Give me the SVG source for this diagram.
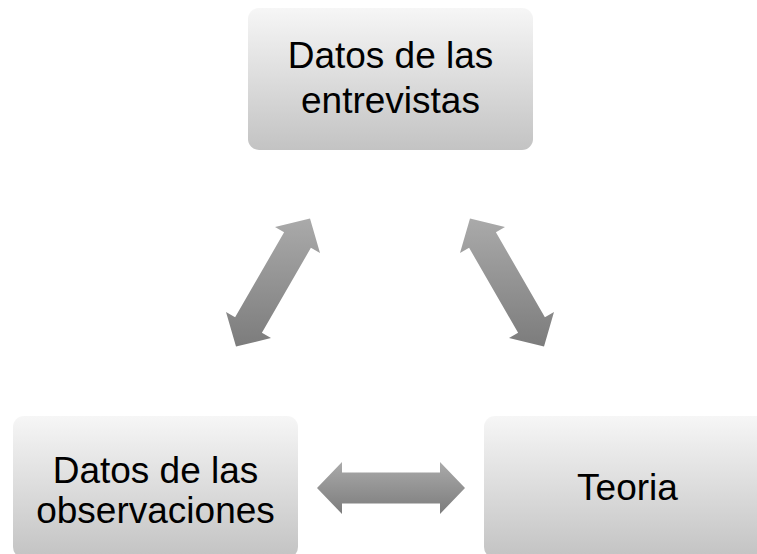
<svg xmlns="http://www.w3.org/2000/svg" width="757" height="554" viewBox="0 0 757 554">
<defs>
<linearGradient id="boxg" x1="0" y1="0" x2="0" y2="1">
<stop offset="0" stop-color="#f6f6f6"/>
<stop offset="1" stop-color="#c3c3c3"/>
</linearGradient>
<linearGradient id="arrg" x1="0" y1="0" x2="0" y2="1">
<stop offset="0" stop-color="#aaaaaa"/>
<stop offset="1" stop-color="#7c7c7c"/>
</linearGradient>
<style>
.box{fill:url(#boxg);}
.arr{fill:url(#arrg);}
.lbl{font-family:"Liberation Sans",Arial,sans-serif;font-size:37px;fill:#000;text-anchor:middle;}
</style>
</defs>
<rect width="757" height="554" fill="#fff"/>
<g id="connectors">
<polygon class="arr" points="236,346.6 226,311.9 235.1,317.2 284.1,232.3 275,227.1 310,218.4 320,253.1 310.9,247.8 261.9,332.7 271,337.9"/>
<polygon class="arr" points="544,346.6 554,311.9 544.9,317.2 495.9,232.3 505,227.1 470,218.4 460,253.1 469.1,247.8 518.1,332.7 509,337.9"/>
<polygon class="arr" points="317,488 342,462 342,472.5 440,472.5 440,462 465,488 440,514 440,503.5 342,503.5 342,514"/>
</g>
<g id="node-entrevistas">
<rect class="box" x="248" y="8" width="285" height="142" rx="11"/>
<text class="lbl" x="390.5" y="68">Datos de las</text>
<text class="lbl" x="390.5" y="113">entrevistas</text>
</g>
<g id="node-observaciones">
<rect class="box" x="13" y="416" width="285" height="142" rx="11"/>
<text class="lbl" x="155.5" y="483">Datos de las</text>
<text class="lbl" x="155.5" y="523">observaciones</text>
</g>
<g id="node-teoria">
<rect class="box" x="484" y="416" width="287" height="142" rx="11"/>
<text class="lbl" x="627.5" y="500">Teoria</text>
</g>
</svg>
